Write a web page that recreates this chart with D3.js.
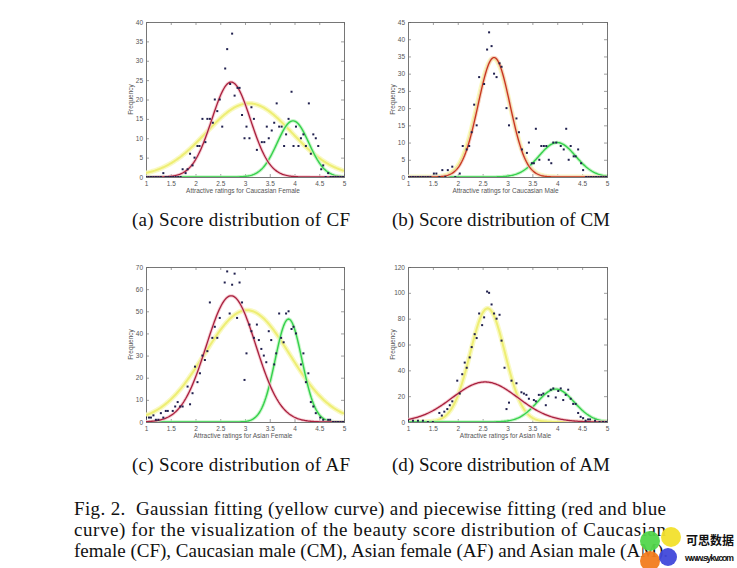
<!DOCTYPE html>
<html><head><meta charset="utf-8">
<script src="https://cdn.jsdelivr.net/npm/d3@7/dist/d3.min.js"></script>
<style>body{margin:0;background:#fff}svg{display:block}</style>
</head><body>
<script>
// ---------- DATA ----------
const panelIds = ["CF", "CM", "AF", "AM"];
const subCaptions = ["(a) Score distribution of CF", "(b) Score distribution of CM",
                     "(c) Score distribution of AF", "(d) Score distribution of AM"];
const xLabels = ["Attractive ratings for Caucasian Female", "Attractive ratings for Caucasian Male",
                 "Attractive ratings for Asian Female", "Attractive ratings for Asian Male"];
const yLabel = "Frequency";
const xTicks = [1, 1.5, 2, 2.5, 3, 3.5, 4, 4.5, 5];
const yMaxes = [40, 45, 70, 120];
const yTickSteps = [5, 5, 10, 20];

// scatter points [rating, frequency]
const pointsCF = [[1,0],[1.05,0],[1.1,0],[1.15,0],[1.2,0],[1.25,0],[1.3,0],[1.35,1],[1.4,0],[1.45,0],[1.5,0],[1.55,0],[1.6,0],[1.65,0],[1.7,0],
 [1.74,2],[1.8,1],[1.84,2],[1.89,6],[1.94,3],[1.98,5],[2.04,8],[2.08,8],[2.14,15],[2.2,9],[2.24,15],[2.29,15],[2.35,14],[2.39,20],
 [2.44,17],[2.49,20],[2.54,13],[2.6,28],[2.64,33],[2.7,24],[2.74,37],[2.79,21],[2.85,23],[2.89,23],[2.94,16],[2.99,10],[3.03,13],
 [3.09,10],[3.13,18],[3.18,15],[3.24,7],[3.34,9],[3.39,9],[3.44,13],[3.48,10],[3.54,12],[3.59,14],[3.64,19],[3.69,13],[3.74,13],
 [3.79,8],[3.83,11],[3.88,15],[3.94,22],[3.98,8],[4.03,13],[4.08,8],[4.13,10],[4.18,11],[4.23,8],[4.29,19],[4.33,6],[4.38,11],
 [4.43,10],[4.48,8],[4.54,2],[4.58,3],[4.63,0],[4.68,1],[4.73,0],[4.78,0],[4.83,0],[4.88,0],[4.93,0],[4.98,0]];
const pointsCM = [[1,0],[1.05,0],[1.1,0],[1.15,0],[1.2,0],[1.25,0],[1.3,0],[1.35,0],[1.4,0],[1.45,0],[1.52,1],[1.57,1],[1.63,0],[1.69,2],[1.75,0],
 [1.8,2],[1.89,3],[1.95,0],[2.04,1],[2.1,9],[2.18,8],[2.23,9],[2.28,13],[2.33,21],[2.38,15],[2.43,29],[2.53,27],[2.59,37],[2.63,42],
 [2.68,38],[2.73,30],[2.78,29],[2.84,33],[2.88,32],[2.98,20],[3.03,15],[3.18,17],[3.23,13],[3.29,8],[3.39,7],[3.43,10],[3.49,4],
 [3.53,4],[3.57,14],[3.64,5],[3.68,9],[3.73,9],[3.78,9],[3.83,5],[3.88,4],[3.92,10],[3.98,10],[4.07,9],[4.13,8],[4.18,14],[4.23,5],
 [4.27,9],[4.33,6],[4.37,6],[4.42,8],[4.48,4],[4.52,2],[4.58,0],[4.63,0],[4.68,0],[4.73,0],[4.78,0],[4.83,0],[4.88,0],[4.93,0],[4.98,0]];
const pointsAF = [[1,2],[1.06,2],[1.1,2],[1.15,3],[1.2,1],[1.25,1],[1.3,4],[1.35,2],[1.4,5],[1.44,5],[1.54,5],[1.59,7],[1.64,9],[1.69,7],
 [1.74,7],[1.84,16],[1.89,8],[1.94,13],[1.99,25],[2.04,18],[2.09,22],[2.14,30],[2.19,28],[2.24,32],[2.29,54],[2.34,38],[2.39,43],
 [2.44,38],[2.49,47],[2.59,63],[2.64,68],[2.69,49],[2.74,62],[2.79,67],[2.84,47],[2.89,63],[2.94,54],[2.99,19],[3.03,31],[3.09,44],
 [3.13,41],[3.18,38],[3.24,44],[3.28,37],[3.33,33],[3.38,30],[3.43,27],[3.48,41],[3.53,37],[3.59,26],[3.63,31],[3.69,49],[3.73,38],
 [3.78,36],[3.83,49],[3.88,50],[3.94,42],[3.98,43],[4.03,40],[4.13,26],[4.18,31],[4.23,18],[4.28,22],[4.33,9],[4.38,7],[4.43,4],
 [4.52,2],[4.58,1],[4.68,1],[4.72,1],[4.78,0],[4.83,0],[4.88,0],[4.93,0],[4.98,0]];
const pointsAM = [[1,1],[1.1,1],[1.2,1],[1.3,1],[1.4,0],[1.5,0],[1.63,7],[1.68,5],[1.73,8],[1.79,10],[1.84,13],[1.89,16],[1.99,32],[2.04,22],
 [2.09,37],[2.14,46],[2.18,42],[2.24,50],[2.28,58],[2.34,68],[2.38,65],[2.43,84],[2.49,75],[2.53,81],[2.59,101],[2.63,100],[2.68,91],
 [2.73,84],[2.78,80],[2.84,83],[2.88,63],[2.94,42],[2.98,10],[3.03,15],[3.08,32],[3.18,30],[3.28,23],[3.33,22],[3.38,21],[3.43,18],
 [3.53,17],[3.57,16],[3.63,21],[3.68,21],[3.72,22],[3.77,13],[3.82,20],[3.87,25],[3.92,26],[3.97,19],[4.02,24],[4.07,26],[4.12,17],
 [4.17,21],[4.22,25],[4.27,18],[4.32,14],[4.37,14],[4.42,7],[4.47,4],[4.52,3],[4.57,1],[4.62,2],[4.66,2],[4.76,1],[4.85,0],[4.92,0],[4.98,0]];
const pointSets = [pointsCF, pointsCM, pointsAF, pointsAM];

// fitted Gaussians [amplitude, mean, sigma]
const yellowFits = [[19, 3.08, 0.86], [34.5, 2.72, 0.33], [50.5, 3.04, 0.86], [88, 2.6, 0.35]];
const redFits    = [[24.5, 2.72, 0.39], [34.7, 2.73, 0.32], [57, 2.72, 0.5], [31, 2.55, 0.66]];
const greenFits  = [[14.5, 3.97, 0.32], [10, 4.0, 0.37], [46.5, 3.88, 0.27], [25.5, 3.97, 0.37]];

const captionLines = [
  "Fig. 2.  Gaussian fitting (yellow curve) and piecewise fitting (red and blue",
  "curve) for the visualization of the beauty score distribution of Caucasian",
  "female (CF), Caucasian male (CM), Asian female (AF) and Asian male (AM)."];
const watermarkTitle = "可思数据";
const watermarkUrl = "www.sykv.com";

// ---------- LAYOUT ----------
const W = 737, H = 568;
const rects = [
  {x0:146, x1:344, y0:22, y1:177},
  {x0:408, x1:607, y0:22, y1:177},
  {x0:146, x1:344, y0:267, y1:422},
  {x0:408, x1:607, y0:267, y1:422}];
const capPos = [{x:132, y:226}, {x:392, y:226}, {x:132, y:471}, {x:392, y:471}];

const svg = d3.select("body").append("svg").attr("width", W).attr("height", H);
const defs = svg.append("defs");
const gauss = (p, x) => p[0] * Math.exp(-((x - p[1]) ** 2) / (2 * p[2] * p[2]));
const grid = d3.range(1, 5.0001, 0.02);

rects.forEach((r, i) => {
  const x = d3.scaleLinear().domain([1, 5]).range([r.x0, r.x1]);
  const y = d3.scaleLinear().domain([0, yMaxes[i]]).range([r.y1, r.y0]);
  const g = svg.append("g");
  defs.append("clipPath").attr("id", "clip" + i).append("rect")
    .attr("x", r.x0).attr("y", r.y0 - 2).attr("width", r.x1 - r.x0).attr("height", r.y1 - r.y0 + 2);

  const yt = d3.range(0, yMaxes[i] + 0.001, yTickSteps[i]);
  const font = "'Liberation Sans', Arial, sans-serif";
  const ax = g.append("g").attr("transform", `translate(0,${r.y1})`)
    .call(d3.axisBottom(x).tickValues(xTicks).tickSize(-3).tickPadding(4).tickFormat(d3.format("")));
  const ay = g.append("g").attr("transform", `translate(${r.x0},0)`)
    .call(d3.axisLeft(y).tickValues(yt).tickSize(-3).tickPadding(3).tickFormat(d3.format("")));
  const axT = g.append("g").attr("transform", `translate(0,${r.y0})`)
    .call(d3.axisTop(x).tickValues(xTicks).tickSize(-3).tickFormat(""));
  const ayR = g.append("g").attr("transform", `translate(${r.x1},0)`)
    .call(d3.axisRight(y).tickValues(yt).tickSize(-3).tickFormat(""));
  [ax, ay, axT, ayR].forEach(a => {
    a.select(".domain").attr("stroke", "#666").attr("stroke-width", 0.9);
    a.selectAll(".tick line").attr("stroke", "#777").attr("stroke-width", 0.7);
    a.selectAll("text").attr("font-family", font).attr("font-size", 6.5).attr("fill", "#555");
  });

  g.append("text").attr("x", (r.x0 + r.x1) / 2 - 2).attr("y", r.y1 + 16)
    .attr("text-anchor", "middle").attr("font-family", font).attr("font-size", 6.5).attr("fill", "#555")
    .text(xLabels[i]);
  g.append("text").attr("transform", `translate(${r.x0 - 13},${(r.y0 + r.y1) / 2}) rotate(-90)`)
    .attr("text-anchor", "middle").attr("font-family", font).attr("font-size", 6.5).attr("fill", "#555")
    .text(yLabel);

  const plot = g.append("g").attr("clip-path", `url(#clip${i})`);
  const line = d3.line().x(d => x(d)).curve(d3.curveLinear);
  const drawCurve = (p, glow, glowW, glowOp, core, coreW) => {
    const l = line.y(d => y(gauss(p, d)));
    plot.append("path").attr("d", l(grid)).attr("fill", "none").attr("stroke", glow)
      .attr("stroke-width", glowW).attr("stroke-linejoin", "round").attr("opacity", glowOp);
    plot.append("path").attr("d", l(grid)).attr("fill", "none").attr("stroke", core)
      .attr("stroke-width", coreW).attr("stroke-linejoin", "round");
  };
  drawCurve(yellowFits[i], "#f8f8bc", 5, 0.9, "#eeee74", 2);
  drawCurve(greenFits[i], "#c0f4c0", 3.5, 0.85, "#34d04c", 1.4);
  drawCurve(redFits[i], "#f4c0c8", 3.2, 0.8, i === 1 ? "#c63818" : "#a8203e", 1.3);

  plot.selectAll("rect.pt").data(pointSets[i]).enter().append("rect")
    .attr("x", d => x(d[0]) - 1).attr("y", d => y(d[1]) - 1)
    .attr("width", 2).attr("height", 2).attr("fill", "#20204e");

  svg.append("text").attr("x", capPos[i].x).attr("y", capPos[i].y)
    .attr("font-family", "'Liberation Serif', 'Times New Roman', serif").attr("font-size", 19)
    .attr("fill", "#111").attr("textLength", 218).attr("lengthAdjust", "spacing").text(subCaptions[i]);
});

// caption
const capG = svg.append("g").attr("font-family", "'Liberation Serif', 'Times New Roman', serif")
  .attr("font-size", 19).attr("fill", "#111");
captionLines.forEach((t, k) => {
  const tx = capG.append("text").attr("x", 74).attr("y", 515 + k * 21).attr("xml:space", "preserve").text(t);
  if (k < 2) tx.attr("textLength", 592).attr("lengthAdjust", "spacing");
});

// watermark
const wm = svg.append("g");
[[650, 541, 10, "#52d64c"], [671, 537, 10, "#f2e02c"], [650, 561, 10, "#f27c1e"], [668, 557, 9, "#4048da"]]
  .forEach(c => wm.append("circle").attr("cx", c[0]).attr("cy", c[1]).attr("r", c[2]).attr("fill", c[3]).attr("opacity", 0.95));
wm.append("text").attr("x", 686).attr("y", 545).attr("font-family", "'Noto Sans CJK SC', sans-serif")
  .attr("font-weight", "bold").attr("font-size", 12).attr("fill", "#111").attr("textLength", 48).text(watermarkTitle);
wm.append("text").attr("x", 685).attr("y", 561).attr("font-family", "'Liberation Sans', Arial, sans-serif")
  .attr("font-weight", "bold").attr("font-size", 9).attr("fill", "#111").attr("textLength", 49).text(watermarkUrl);
</script>
</body></html>
